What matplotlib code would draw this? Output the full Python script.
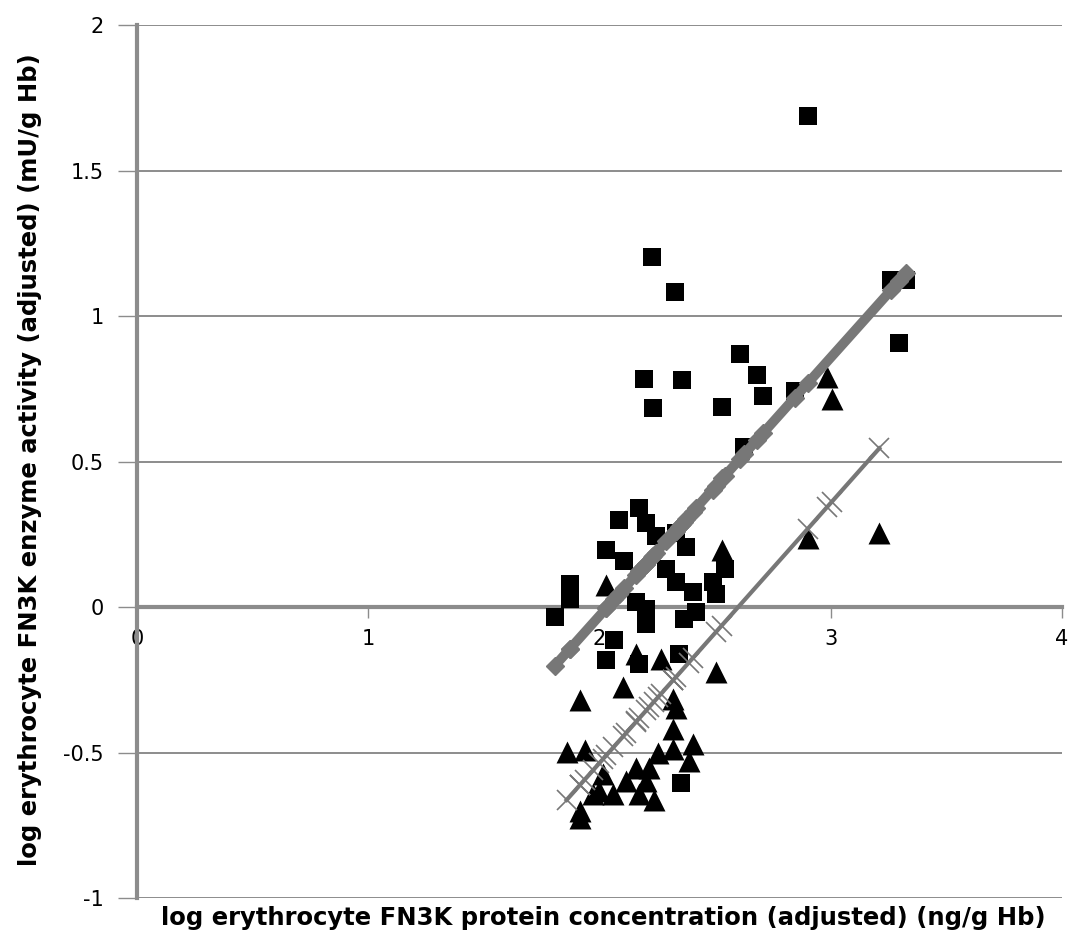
import matplotlib.pyplot as plt
import numpy as np

# squares (group 1)
sq_x = [2.901, 2.227, 2.326, 2.193, 2.356, 2.232, 2.609, 2.682, 2.708, 2.532,
        2.845, 3.262, 3.326, 3.296, 2.627, 2.172, 2.086, 2.202, 2.245, 2.330,
        2.373, 2.030, 2.107, 1.871, 1.871, 1.807, 2.288, 2.330, 2.403, 2.489,
        2.502, 2.159, 2.202, 2.202, 2.365, 2.416, 2.064, 2.030, 2.172, 2.343,
        2.352, 2.541]
sq_y = [1.689, 1.205, 1.085, 0.785, 0.782, 0.683, 0.870, 0.799, 0.727, 0.689,
        0.744, 1.123, 1.123, 0.908, 0.549, 0.341, 0.300, 0.290, 0.246, 0.256,
        0.205, 0.198, 0.160, 0.078, 0.027, -0.034, 0.130, 0.085, 0.051, 0.085,
        0.044, 0.017, -0.007, -0.058, -0.041, -0.017, -0.113, -0.181, -0.195, -0.160,
        -0.604, 0.130]

# triangles (group 2)
tri_x = [2.030, 2.528, 2.983, 3.004, 2.901, 3.210, 2.160, 2.266, 2.103, 1.914,
         2.502, 2.318, 2.330, 2.318, 1.858, 1.936, 2.253, 2.318, 2.403, 2.386,
         2.017, 2.159, 2.215, 2.116, 2.202, 1.974, 2.060, 2.172, 2.236, 1.914,
         1.914, 1.999]
tri_y = [0.075, 0.198, 0.792, 0.717, 0.239, 0.256, -0.160, -0.177, -0.273, -0.321,
         -0.222, -0.317, -0.348, -0.420, -0.498, -0.491, -0.502, -0.488, -0.471, -0.529,
         -0.573, -0.553, -0.553, -0.597, -0.597, -0.642, -0.642, -0.642, -0.662, -0.700,
         -0.724, -0.631]

# regression lines
fit1_slope, fit1_icpt = 0.888, -1.806
fit2_slope, fit2_icpt = 0.894, -2.324

grey = '#777777'
gridc = '#8c8c8c'

fig = plt.figure(figsize=(10.7, 9.4), dpi=100)
ax = fig.add_axes([0.128, 0.0447, 0.8645, 0.9283])
ax.set_xlim(0, 4)
ax.set_ylim(-1, 2)

# gridlines
for v in np.arange(-1, 2.01, 0.5):
    if v != 0:
        ax.axhline(v, color=gridc, lw=1.4, zorder=0)

ax.scatter(sq_x, sq_y, marker='s', s=185, color='black', zorder=3, linewidths=0)
ax.scatter(tri_x, tri_y, marker='^', s=250, color='black', zorder=3, linewidths=0)

x1 = np.sort(np.array(sq_x))
ax.plot(x1, fit1_icpt + fit1_slope * x1, color=grey, lw=7, marker='D',
        markersize=9, zorder=4)
x2 = np.sort(np.array(tri_x))
ax.plot(x2, fit2_icpt + fit2_slope * x2, color=grey, lw=3, marker='x',
        markersize=14, markeredgewidth=1.2, zorder=4)

# axes look
ax.spines['top'].set_visible(False)
ax.spines['right'].set_visible(False)
ax.spines['left'].set_color(gridc)
ax.spines['left'].set_linewidth(3)
ax.spines['bottom'].set_position(('data', 0))
ax.spines['bottom'].set_color(gridc)
ax.spines['bottom'].set_linewidth(3)
ax.spines['bottom'].set_zorder(1)

ax.set_xticks([0, 1, 2, 3, 4])
ax.set_yticks([-1, -0.5, 0, 0.5, 1, 1.5, 2])
ax.set_yticklabels(['-1', '-0.5', '0', '0.5', '1', '1.5', '2'])
ax.tick_params(axis='x', direction='out', length=8, width=1, color=gridc,
               labelsize=15, pad=8)
ax.tick_params(axis='y', direction='out', length=14, width=1, color=gridc,
               labelsize=15, pad=10)

fig.text(603 / 1070, 1 - 918 / 940,
         'log erythrocyte FN3K protein concentration (adjusted) (ng/g Hb)',
         fontsize=17.5, fontweight='bold', ha='center', va='center')
fig.text(30 / 1070, 1 - 460 / 940,
         'log erythrocyte FN3K enzyme activity (adjusted) (mU/g Hb)',
         fontsize=17.5, fontweight='bold', ha='center', va='center', rotation=90)

plt.savefig('out.png', dpi=100)
